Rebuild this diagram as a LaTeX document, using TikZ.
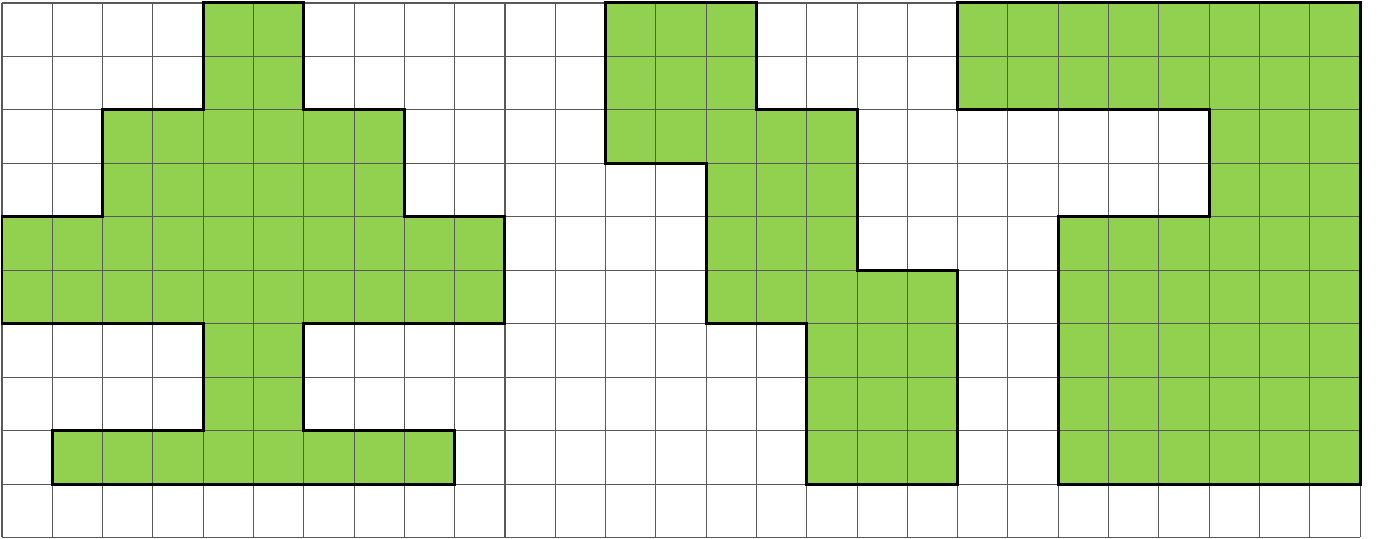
\documentclass[tikz,border=0pt]{standalone}
\usepackage{tikz}
\definecolor{leaf}{HTML}{92D050}
\definecolor{gridgray}{HTML}{595959}

\begin{document}
\begin{tikzpicture}[x=1.00593cm,y=1.069cm]
			\useasboundingbox (-0.04cm,-0.03cm) rectangle (27.5cm,10.75cm);
			% green areas
			\fill[leaf] (4,10) -- (6,10) -- (6,8) -- (8,8) -- (8,6) -- (10,6) -- (10,4) -- (6,4) -- (6,2) -- (9,2) -- (9,1) -- (1,1) -- (1,2) -- (4,2) -- (4,4) -- (0,4) -- (0,6) -- (2,6) -- (2,8) -- (4,8) -- cycle;
			\fill[leaf] (12,10) -- (15,10) -- (15,8) -- (17,8) -- (17,5) -- (19,5) -- (19,1) -- (16,1) -- (16,4) -- (14,4) -- (14,7) -- (12,7) -- cycle;
			\fill[leaf] (19,10) -- (27,10) -- (27,1) -- (21,1) -- (21,6) -- (24,6) -- (24,8) -- (19,8) -- cycle;
			% grid
			\foreach \i in {0,...,27}
				\draw[color=gridgray,line width=0.6pt] (\i,0) -- (\i,10);
			\foreach \j in {0,...,10}
				\draw[color=gridgray,line width=0.6pt] (0,\j) -- (27,\j);
			% outlines
			\draw[line width=1.7pt,line join=miter] (4,10) -- (6,10) -- (6,8) -- (8,8) -- (8,6) -- (10,6) -- (10,4) -- (6,4) -- (6,2) -- (9,2) -- (9,1) -- (1,1) -- (1,2) -- (4,2) -- (4,4) -- (0,4) -- (0,6) -- (2,6) -- (2,8) -- (4,8) -- cycle;
			\draw[line width=1.7pt,line join=miter] (12,10) -- (15,10) -- (15,8) -- (17,8) -- (17,5) -- (19,5) -- (19,1) -- (16,1) -- (16,4) -- (14,4) -- (14,7) -- (12,7) -- cycle;
			\draw[line width=1.7pt,line join=miter] (19,10) -- (27,10) -- (27,1) -- (21,1) -- (21,6) -- (24,6) -- (24,8) -- (19,8) -- cycle;
		\end{tikzpicture}
\end{document}
